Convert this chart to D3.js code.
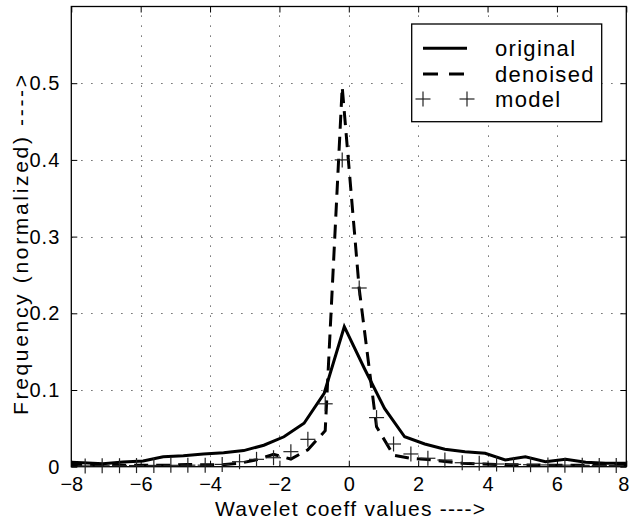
<!DOCTYPE html>
<html>
<head>
<meta charset="utf-8">
<script src="https://cdn.jsdelivr.net/npm/d3@7"></script>
<style>
  html, body { margin: 0; padding: 0; background: #fff; }
  svg { display: block; font-family: "Liberation Sans", Arial, Helvetica, sans-serif; }
</style>
</head>
<body>
<svg id="chart" width="631" height="520"></svg>
<script>
// ---- data ----
const xTicks = [-8, -6, -4, -2, 0, 2, 4, 6, 8];
const xTickLabels = ["\u22128", "\u22126", "\u22124", "\u22122", "0", "2", "4", "6", "8"];
const yTicks = [0, 0.1, 0.2, 0.3, 0.4, 0.5];
const yTickLabels = ["0", "0.1", "0.2", "0.3", "0.4", "0.5"];

const originalX = [-8.25, -7.67, -7.09, -6.51, -5.93, -5.35, -4.77, -4.19, -3.61, -3.03, -2.45, -1.87, -1.29, -0.71, -0.13,
                   0.45, 1.03, 1.61, 2.19, 2.77, 3.35, 3.93, 4.51, 5.09, 5.67, 6.25, 6.83, 7.41, 7.99];
const originalY = [0.0065, 0.0052, 0.0039, 0.0061, 0.0074, 0.013, 0.0143, 0.0166, 0.0183, 0.021, 0.028, 0.039, 0.0566, 0.0957, 0.1825,
                   0.128, 0.076, 0.039, 0.0296, 0.0227, 0.0196, 0.0174, 0.0087, 0.013, 0.0065, 0.0096, 0.0057, 0.0044, 0.0044];

const denoisedX = [-8.09, -7.60, -7.11, -6.61, -6.12, -5.62, -5.13, -4.64, -4.14, -3.65, -3.15, -2.66, -2.17, -1.67, -1.18, -0.68, -0.19,
                   0.30, 0.80, 1.29, 1.79, 2.28, 2.77, 3.27, 3.76, 4.26, 4.75, 5.24, 5.74, 6.23, 6.73, 7.22, 7.71, 8.21];
const denoisedY = [0.003, 0.003, 0.002, 0.002, 0.002, 0.002, 0.002, 0.003, 0.0025, 0.0025, 0.0045, 0.009, 0.016, 0.010, 0.022, 0.047, 0.495,
                   0.232, 0.052, 0.015, 0.011, 0.0095, 0.0068, 0.0045, 0.0035, 0.003, 0.0025, 0.0022, 0.002, 0.002, 0.002, 0.002, 0.003, 0.003];

const modelX = [-7.60, -7.11, -6.61, -6.12, -5.62, -5.13, -4.64, -4.14, -3.65, -3.15, -2.66, -2.17, -1.67, -1.18, -0.68, -0.19,
                0.30, 0.80, 1.29, 1.79, 2.28, 2.77, 3.27, 3.76, 4.26, 4.75, 5.24, 5.74, 6.23, 6.73, 7.22, 7.71];
const modelY = [0.001, 0.0012, 0.0013, 0.0015, 0.0017, 0.0018, 0.002, 0.002, 0.003, 0.0065, 0.0096, 0.0117, 0.0196, 0.0357, 0.082, 0.40,
                0.233, 0.064, 0.0296, 0.0166, 0.011, 0.0087, 0.0052, 0.0044, 0.0035, 0.003, 0.0026, 0.0023, 0.002, 0.0018, 0.0016, 0.0015];

const legendLabels = ["original", "denoised", "model"];
const xLabel = "Wavelet coeff values  ---->";
const yLabel = "Frequency (normalized)  ---->";

// ---- layout ----
const W = 631, H = 520;
const L = 71.3, R = 626.3, T = 6.5, B = 466.7;

const svg = d3.select("#chart");
svg.append("rect").attr("width", W).attr("height", H).attr("fill", "#fff");

const x = d3.scaleLinear().domain([-8, 8]).range([L, R]);
const y = d3.scaleLinear().domain([0, 0.6]).range([B, T]);

svg.append("defs").append("clipPath").attr("id", "plotclip")
  .append("rect").attr("x", L).attr("y", T).attr("width", R - L).attr("height", B - T);

// grid
const grid = svg.append("g").attr("stroke", "#444").attr("stroke-width", 1).attr("stroke-dasharray", "1.2,8.8");
grid.selectAll(".gx").data(xTicks.slice(1, -1)).join("line")
  .attr("x1", d => Math.round(x(d)) + 0.5).attr("x2", d => Math.round(x(d)) + 0.5)
  .attr("y1", B).attr("y2", T);
grid.selectAll(".gy").data(yTicks.slice(1)).join("line")
  .attr("y1", d => Math.round(y(d)) + 0.5).attr("y2", d => Math.round(y(d)) + 0.5)
  .attr("x1", L).attr("x2", R);

// axes
const fs = 20;
const xAxisB = d3.axisBottom(x).tickValues(xTicks).tickSizeInner(-6).tickSizeOuter(0)
  .tickPadding(14).tickFormat((d, i) => xTickLabels[i]);
const gxb = svg.append("g").attr("transform", `translate(0,${B})`).call(xAxisB);
const xAxisT = d3.axisTop(x).tickValues(xTicks).tickSizeInner(-6).tickSizeOuter(0).tickFormat("");
const gxt = svg.append("g").attr("transform", `translate(0,${T})`).call(xAxisT);
const yAxisL = d3.axisLeft(y).tickValues(yTicks).tickSizeInner(-6).tickSizeOuter(0)
  .tickPadding(11).tickFormat((d, i) => yTickLabels[i]);
const gyl = svg.append("g").attr("transform", `translate(${L},0)`).call(yAxisL);
const yAxisR = d3.axisRight(y).tickValues(yTicks).tickSizeInner(-6).tickSizeOuter(0).tickFormat("");
const gyr = svg.append("g").attr("transform", `translate(${R},0)`).call(yAxisR);

[gxb, gxt, gyl, gyr].forEach(g => {
  g.select(".domain").remove();
  g.selectAll(".tick line").attr("stroke", "#000").attr("stroke-width", 1);
  g.selectAll("text").attr("fill", "#000").style("font-size", fs + "px")
    .style("font-family", '"Liberation Sans", Arial, sans-serif');
});
gyl.selectAll(".tick text").attr("letter-spacing", "1");
gxb.selectAll(".tick text").attr("dy", "0.5em");
// keep the last x label inside the page
gxb.selectAll(".tick text").filter((d, i) => i === xTicks.length - 1).attr("dx", -3);

// box
svg.append("rect").attr("x", L).attr("y", T).attr("width", R - L).attr("height", B - T)
  .attr("fill", "none").attr("stroke", "#000").attr("stroke-width", 1.3);

// series
const plot = svg.append("g").attr("clip-path", "url(#plotclip)");
const line = d3.line().x(d => x(d[0])).y(d => y(d[1]));

plot.append("path").datum(originalX.map((v, i) => [v, originalY[i]]))
  .attr("d", line).attr("fill", "none").attr("stroke", "#000").attr("stroke-width", 3)
  .attr("stroke-linejoin", "miter");

plot.append("path").datum(denoisedX.map((v, i) => [v, denoisedY[i]]))
  .attr("d", line).attr("fill", "none").attr("stroke", "#000").attr("stroke-width", 3)
  .attr("stroke-dasharray", "14,8");

const ms = 7.5;
const plus = (g, cx, cy) => {
  g.append("line").attr("x1", cx - ms).attr("x2", cx + ms).attr("y1", cy).attr("y2", cy);
  g.append("line").attr("x1", cx).attr("x2", cx).attr("y1", cy - ms).attr("y2", cy + ms);
};
const markers = svg.append("g").attr("stroke", "#222").attr("stroke-width", 1.2);
modelX.forEach((v, i) => plus(markers, x(v), y(modelY[i])));

// legend
const lg = svg.append("g");
lg.append("rect").attr("x", 411.7).attr("y", 24).attr("width", 190).attr("height", 97.7)
  .attr("fill", "#fff").attr("stroke", "#000").attr("stroke-width", 1.3);
const rowY = [48.3, 74, 99];
lg.append("line").attr("x1", 423).attr("x2", 467).attr("y1", rowY[0]).attr("y2", rowY[0])
  .attr("stroke", "#000").attr("stroke-width", 3);
lg.append("line").attr("x1", 423).attr("x2", 467).attr("y1", rowY[1]).attr("y2", rowY[1])
  .attr("stroke", "#000").attr("stroke-width", 3).attr("stroke-dasharray", "15,11");
const lgm = lg.append("g").attr("stroke", "#222").attr("stroke-width", 1.2);
plus(lgm, 423, rowY[2]);
plus(lgm, 467, rowY[2]);
lg.selectAll("text.lt").data(legendLabels).join("text")
  .attr("x", 495).attr("y", (d, i) => rowY[i] + 7.5)
  .attr("font-size", 22).attr("letter-spacing", "1.3").attr("fill", "#000")
  .text(d => d);

// axis labels
svg.append("text").attr("x", 215).attr("y", 515.5).attr("font-size", 21)
  .attr("textLength", 270).attr("lengthAdjust", "spacing").attr("fill", "#000")
  .text(xLabel);
svg.append("text").attr("transform", "translate(28,415) rotate(-90)")
  .attr("x", 0).attr("y", 0).attr("font-size", 21)
  .attr("textLength", 340).attr("lengthAdjust", "spacing").attr("fill", "#000")
  .text(yLabel);
</script>
</body>
</html>
